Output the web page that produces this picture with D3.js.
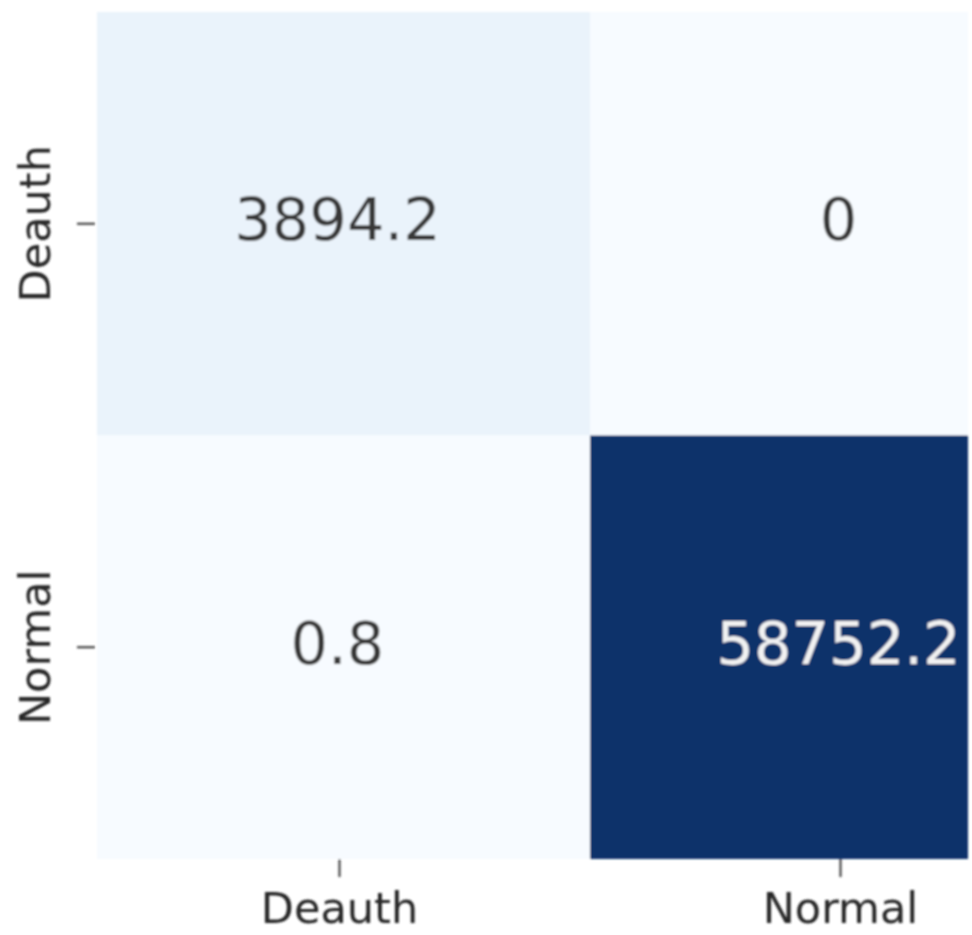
<!DOCTYPE html>
<html>
<head>
<meta charset="utf-8">
<script src="https://cdn.jsdelivr.net/npm/d3@7"></script>
<style>
  html, body { margin: 0; padding: 0; background: #fff; }
  svg { display: block; }
</style>
</head>
<body>
<svg id="chart" width="972" height="935"></svg>
<script>
// Confusion matrix: rows are true labels, columns are predicted labels
const rowLabels = ["Deauth", "Normal"];
const colLabels = ["Deauth", "Normal"];
const matrixValues = [
  [3894.2, 0],
  [0.8, 58752.2]
];

const width = 972, height = 935;

const svg = d3.select("#chart");
const defs = svg.append("defs");
defs.append("filter").attr("id", "soft")
  .attr("x", "-5%").attr("y", "-5%").attr("width", "110%").attr("height", "110%")
  .append("feGaussianBlur").attr("stdDeviation", 1.0);
// visible window of the heatmap (right column runs past the frame)
defs.append("clipPath").attr("id", "frame")
  .append("rect").attr("x", 97).attr("y", 0).attr("width", 871).attr("height", 859);

const root = svg.append("g").attr("filter", "url(#soft)");

const x = d3.scaleBand().domain(colLabels).range([89, 1091]);
const y = d3.scaleBand().domain(rowLabels).range([12, 859]);

const maxVal = d3.max(matrixValues.flat());
const color = d3.scaleSequential(d3.interpolateBlues).domain([0, maxVal]);

const cells = [];
rowLabels.forEach((r, i) => colLabels.forEach((c, j) => {
  cells.push({ row: r, col: c, value: matrixValues[i][j] });
}));

const heat = root.append("g").attr("clip-path", "url(#frame)");

heat.selectAll("rect.cell").data(cells).join("rect")
  .attr("class", "cell")
  .attr("x", d => x(d.col))
  .attr("y", d => y(d.row))
  .attr("width", x.bandwidth())
  .attr("height", y.bandwidth())
  .attr("fill", d => color(d.value));

heat.selectAll("text.val").data(cells).join("text")
  .attr("class", "val")
  .attr("x", d => x(d.col) + x.bandwidth() / 2 - 2)
  .attr("y", d => y(d.row) + y.bandwidth() / 2 - 4)
  .attr("text-anchor", "middle")
  .attr("dominant-baseline", "central")
  .attr("font-family", "DejaVu Sans")
  .attr("font-size", 59)
  .attr("fill", d => d.value / maxVal > 0.5 ? "#f2f2f2" : "#383838")
  .text(d => d3.format("~f")(d.value));

const xAxis = root.append("g")
  .attr("transform", `translate(0,859)`)
  .call(d3.axisBottom(x).tickSize(18).tickPadding(15));
const yAxis = root.append("g")
  .attr("transform", `translate(97,0)`)
  .call(d3.axisLeft(y).tickSize(20).tickPadding(10));

[xAxis, yAxis].forEach(a => {
  a.select(".domain").remove();
  a.selectAll(".tick line").attr("stroke", "#333").attr("stroke-width", 2);
  a.selectAll(".tick text")
    .attr("font-family", "DejaVu Sans")
    .attr("font-size", 43)
    .attr("fill", "#262626");
});

yAxis.selectAll(".tick line").attr("x1", -2);
yAxis.selectAll(".tick text")
  .attr("text-anchor", "middle")
  .attr("dominant-baseline", "central")
  .attr("dy", 0)
  .attr("x", 0)
  .attr("y", -62)
  .attr("transform", "rotate(-90)");
</script>
</body>
</html>
